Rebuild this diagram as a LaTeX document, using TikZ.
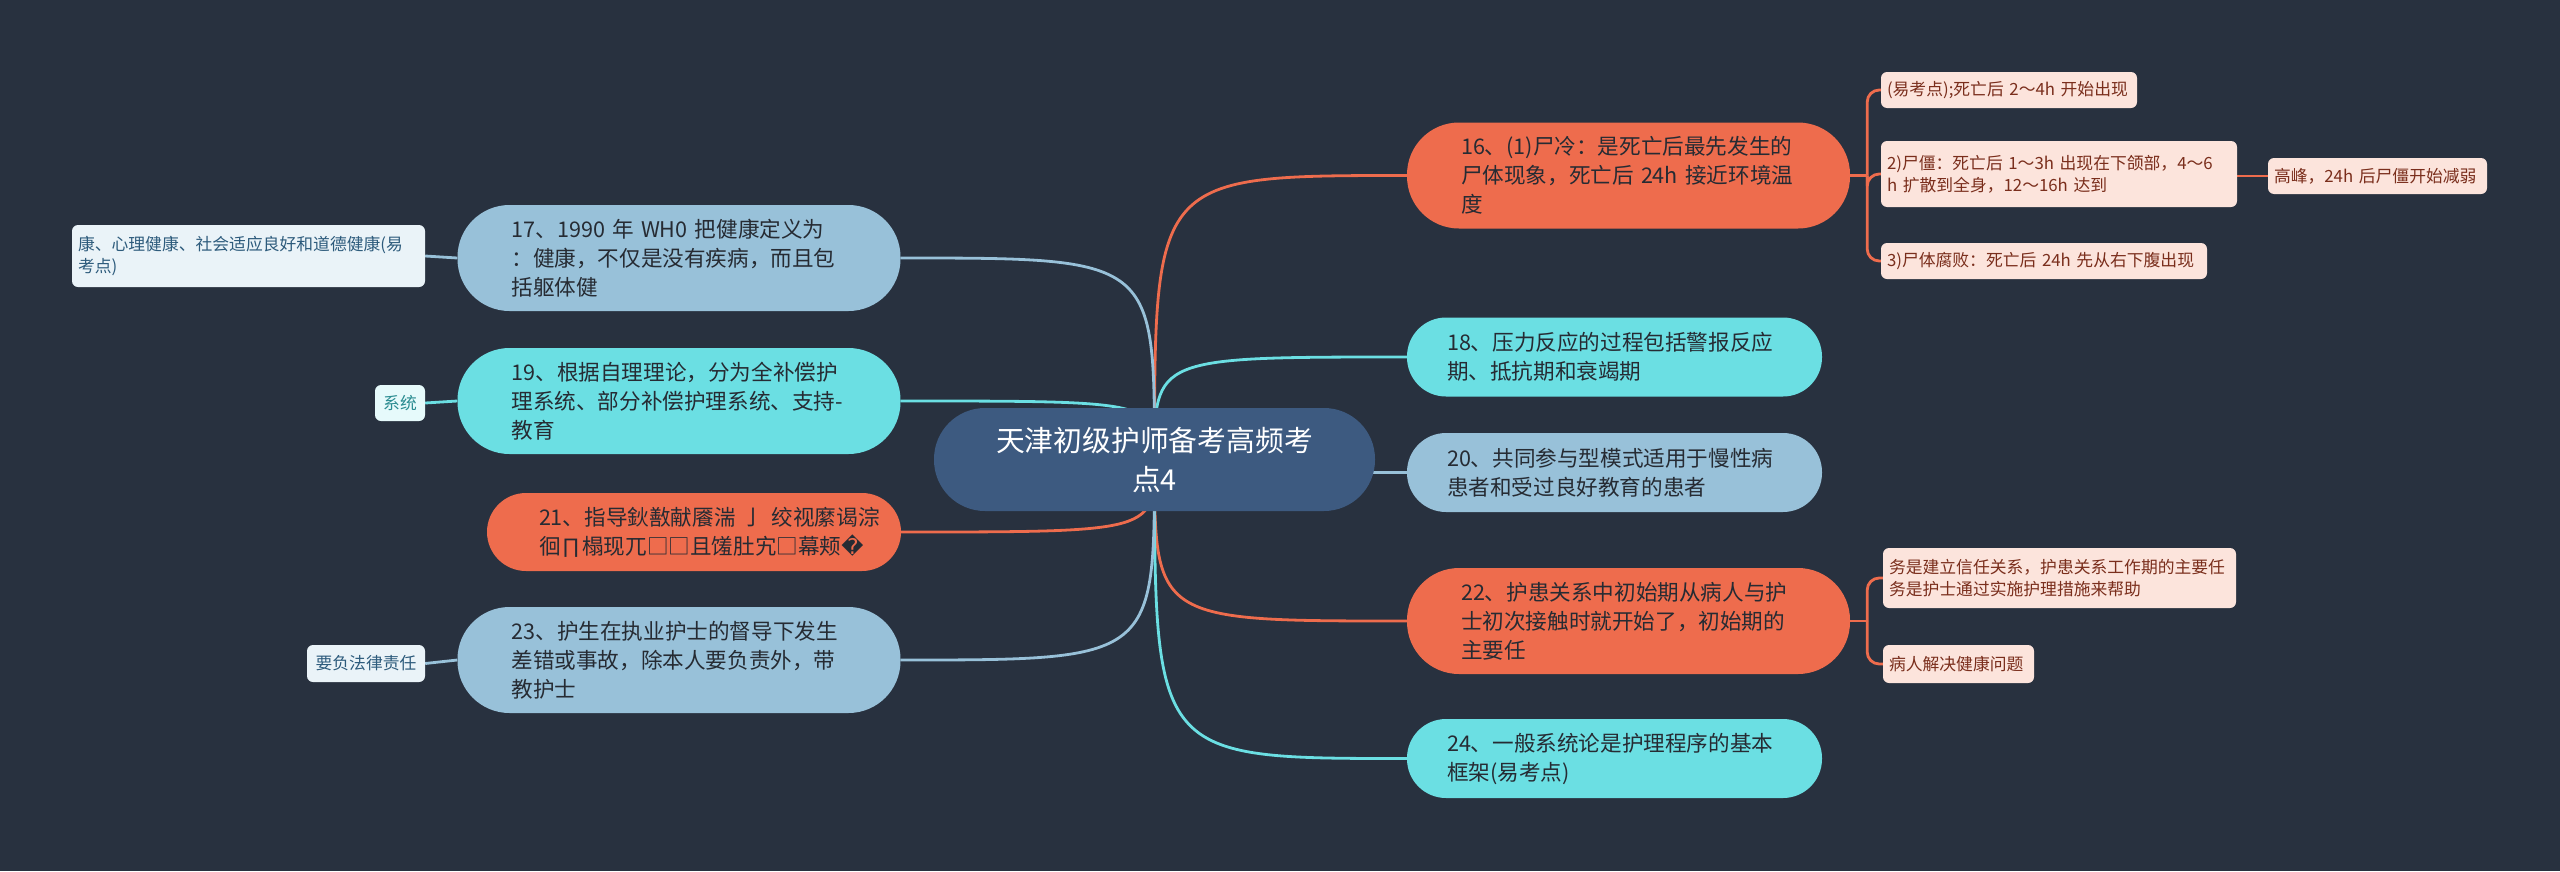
\documentclass[tikz,border=0pt]{standalone}
\usepackage{fontspec}
\setmainfont[WordSpace=0.6]{Noto Sans CJK SC}
\newfontfamily\dejavu{DejaVu Sans}
\definecolor{bgc}{HTML}{28313F}
\definecolor{rootc}{HTML}{3D5A80}
\definecolor{orc}{HTML}{EE6C4D}
\definecolor{cyc}{HTML}{6BDFE3}
\definecolor{lbc}{HTML}{98C1D9}
\definecolor{pinkc}{HTML}{FCE4DC}
\definecolor{pinktx}{HTML}{7A2E1C}
\definecolor{paleb}{HTML}{EAF3F8}
\definecolor{palebtx}{HTML}{2D5B7C}
\definecolor{palec}{HTML}{E6FAFB}
\definecolor{palectx}{HTML}{2A8C91}
\definecolor{maintx}{HTML}{262B33}
\pgfdeclarelayer{bg}
\pgfsetlayers{bg,main}
\begin{document}
\begin{tikzpicture}[x=1pt,y=-1pt,
  topic/.style={rectangle, inner sep=0pt, text width=335pt, align=left, text=maintx,
    font=\fontsize{21.6}{29}\selectfont},
  ttwo/.style={topic, minimum width=415pt, minimum height=79pt, rounded corners=39pt},
  tthree/.style={topic, minimum width=443pt, minimum height=106pt, rounded corners=52pt},
  leaf/.style={rectangle, rounded corners=6pt, inner xsep=6pt, inner ysep=0pt, align=left,
    font=\fontsize{16.8}{22}\selectfont},
  leafo/.style={leaf, fill=pinkc, text=pinktx},
  leafb/.style={leaf, fill=paleb, text=palebtx},
  leafc/.style={leaf, fill=palec, text=palectx},
  cn/.style={line width=2.8pt},
  br/.style={line width=2.8pt, rounded corners=12pt}
]
\useasboundingbox (0,0) rectangle (2560,871);

% root
\node[rectangle, fill=rootc, rounded corners=51pt, minimum width=441pt, minimum height=103pt,
  text=white, align=center, inner sep=0pt, font=\fontsize{28.8}{39}\selectfont]
  (root) at (1154.5,459.5) {天津初级护师备考高频考\\点4};

% right topics
\node[tthree, fill=orc] (n16) at (1628.5,175.5)
  {\mbox{16、(1)尸冷：是死亡后最先发生的}\\\mbox{尸体现象，死亡后 24h 接近环境温}\\度};
\node[ttwo, fill=cyc] (n18) at (1614.5,357)
  {\mbox{18、压力反应的过程包括警报反应}\\期、抵抗期和衰竭期};
\node[ttwo, fill=lbc] (n20) at (1614.5,472.5)
  {\mbox{20、共同参与型模式适用于慢性病}\\患者和受过良好教育的患者};
\node[tthree, fill=orc] (n22) at (1628.5,621)
  {\mbox{22、护患关系中初始期从病人与护}\\\mbox{士初次接触时就开始了，初始期的}\\主要任};
\node[ttwo, fill=cyc] (n24) at (1614.5,758.5)
  {\mbox{24、一般系统论是护理程序的基本}\\框架(易考点)};

% left topics
\node[tthree, fill=lbc] (n17) at (679,258)
  {\mbox{17、1990 年 WH0 把健康定义为}\\\mbox{：健康，不仅是没有疾病，而且包}\\括躯体健};
\node[tthree, fill=cyc] (n19) at (679,401)
  {\mbox{19、根据自理理论，分为全补偿护}\\\mbox{理系统、部分补偿护理系统、支持-}\\教育};
\node[ttwo, fill=orc, text width=310pt, minimum width=414pt, minimum height=78pt] (n21) at (694,532)
  {\mbox{21、指导鈥敾献餍湍 亅 绞视縻谒淙}\\\mbox{徊∏榻现兀□□且馐肚宄□幕颊{\dejavu �}}};
\node[tthree, fill=lbc] (n23) at (679,660)
  {\mbox{23、护生在执业护士的督导下发生}\\\mbox{差错或事故，除本人要负责外，带}\\教护士};

% right leaves
\node[leafo, minimum width=256pt, text width=244pt, minimum height=36pt] (l16a) at (2009,90)
  {\mbox{(易考点);死亡后 2～4h 开始出现}};
\node[leafo, minimum width=356pt, text width=344pt, minimum height=66pt] (l16b) at (2059,174)
  {\mbox{2)尸僵：死亡后 1～3h 出现在下颌部，4～6}\\\mbox{h 扩散到全身，12～16h 达到}};
\node[leafo, minimum width=219pt, text width=207pt, minimum height=36pt] (l16c) at (2377.5,176)
  {\mbox{高峰，24h 后尸僵开始减弱}};
\node[leafo, minimum width=326pt, text width=314pt, minimum height=36pt] (l16d) at (2044,261)
  {\mbox{3)尸体腐败：死亡后 24h 先从右下腹出现}};
\node[leafo, minimum width=353pt, text width=341pt, minimum height=60pt] (l22a) at (2059.5,578)
  {务是建立信任关系，护患关系工作期的主要任\\务是护士通过实施护理措施来帮助};
\node[leafo, minimum width=151pt, text width=139pt, minimum height=38pt] (l22b) at (1958.5,664)
  {病人解决健康问题};

% left leaves
\node[leafb, minimum width=353pt, text width=341pt, minimum height=62pt] (l17) at (248.5,256)
  {康、心理健康、社会适应良好和道德健康(易\\考点)};
\node[leafc, minimum width=50pt, minimum height=36pt] (l19) at (400,403) {系统};
\node[leafb, minimum width=118pt, minimum height=37pt] (l23) at (366,663.5) {要负法律责任};

\coordinate (j16) at ([xshift=17pt]n16.east);
\coordinate (j22) at ([xshift=17pt]n22.east);

\begin{pgfonlayer}{bg}
\fill[bgc] (0,0) rectangle (2560,871);
% root connectors
\draw[cn, orc] (root.center) .. controls (root.center |- n16.west) .. (n16.west);
\draw[cn, cyc] (root.center) .. controls (root.center |- n18.west) .. (n18.west);
\draw[cn, lbc] (root.center) .. controls (root.center |- n20.west) .. (n20.west);
\draw[cn, orc] (root.center) .. controls (root.center |- n22.west) .. (n22.west);
\draw[cn, cyc] (root.center) .. controls (root.center |- n24.west) .. (n24.west);
\draw[cn, lbc] (root.center) .. controls (root.center |- n17.east) .. (n17.east);
\draw[cn, cyc] (root.center) .. controls (root.center |- n19.east) .. (n19.east);
\draw[cn, orc] (root.center) .. controls (root.center |- n21.east) .. (n21.east);
\draw[cn, lbc] (root.center) .. controls (root.center |- n23.east) .. (n23.east);
% leaf connectors right
\draw[cn, orc] (n16.east) -- (j16);
\draw[br, orc] (j16) |- (l16a.west);
\draw[br, orc] (j16) |- (l16b.west);
\draw[br, orc] (j16) |- (l16d.west);
\draw[cn, orc] (l16b.east |- l16c.west) -- (l16c.west);
\draw[cn, orc] (n22.east) -- (j22);
\draw[br, orc] (j22) |- (l22a.west);
\draw[br, orc] (j22) |- (l22b.west);
% leaf connectors left
\draw[cn, lbc] (n17.west) -- (l17.east);
\draw[cn, cyc] (n19.west) -- (l19.east);
\draw[cn, lbc] (n23.west) -- (l23.east);
\end{pgfonlayer}
\end{tikzpicture}
\end{document}
